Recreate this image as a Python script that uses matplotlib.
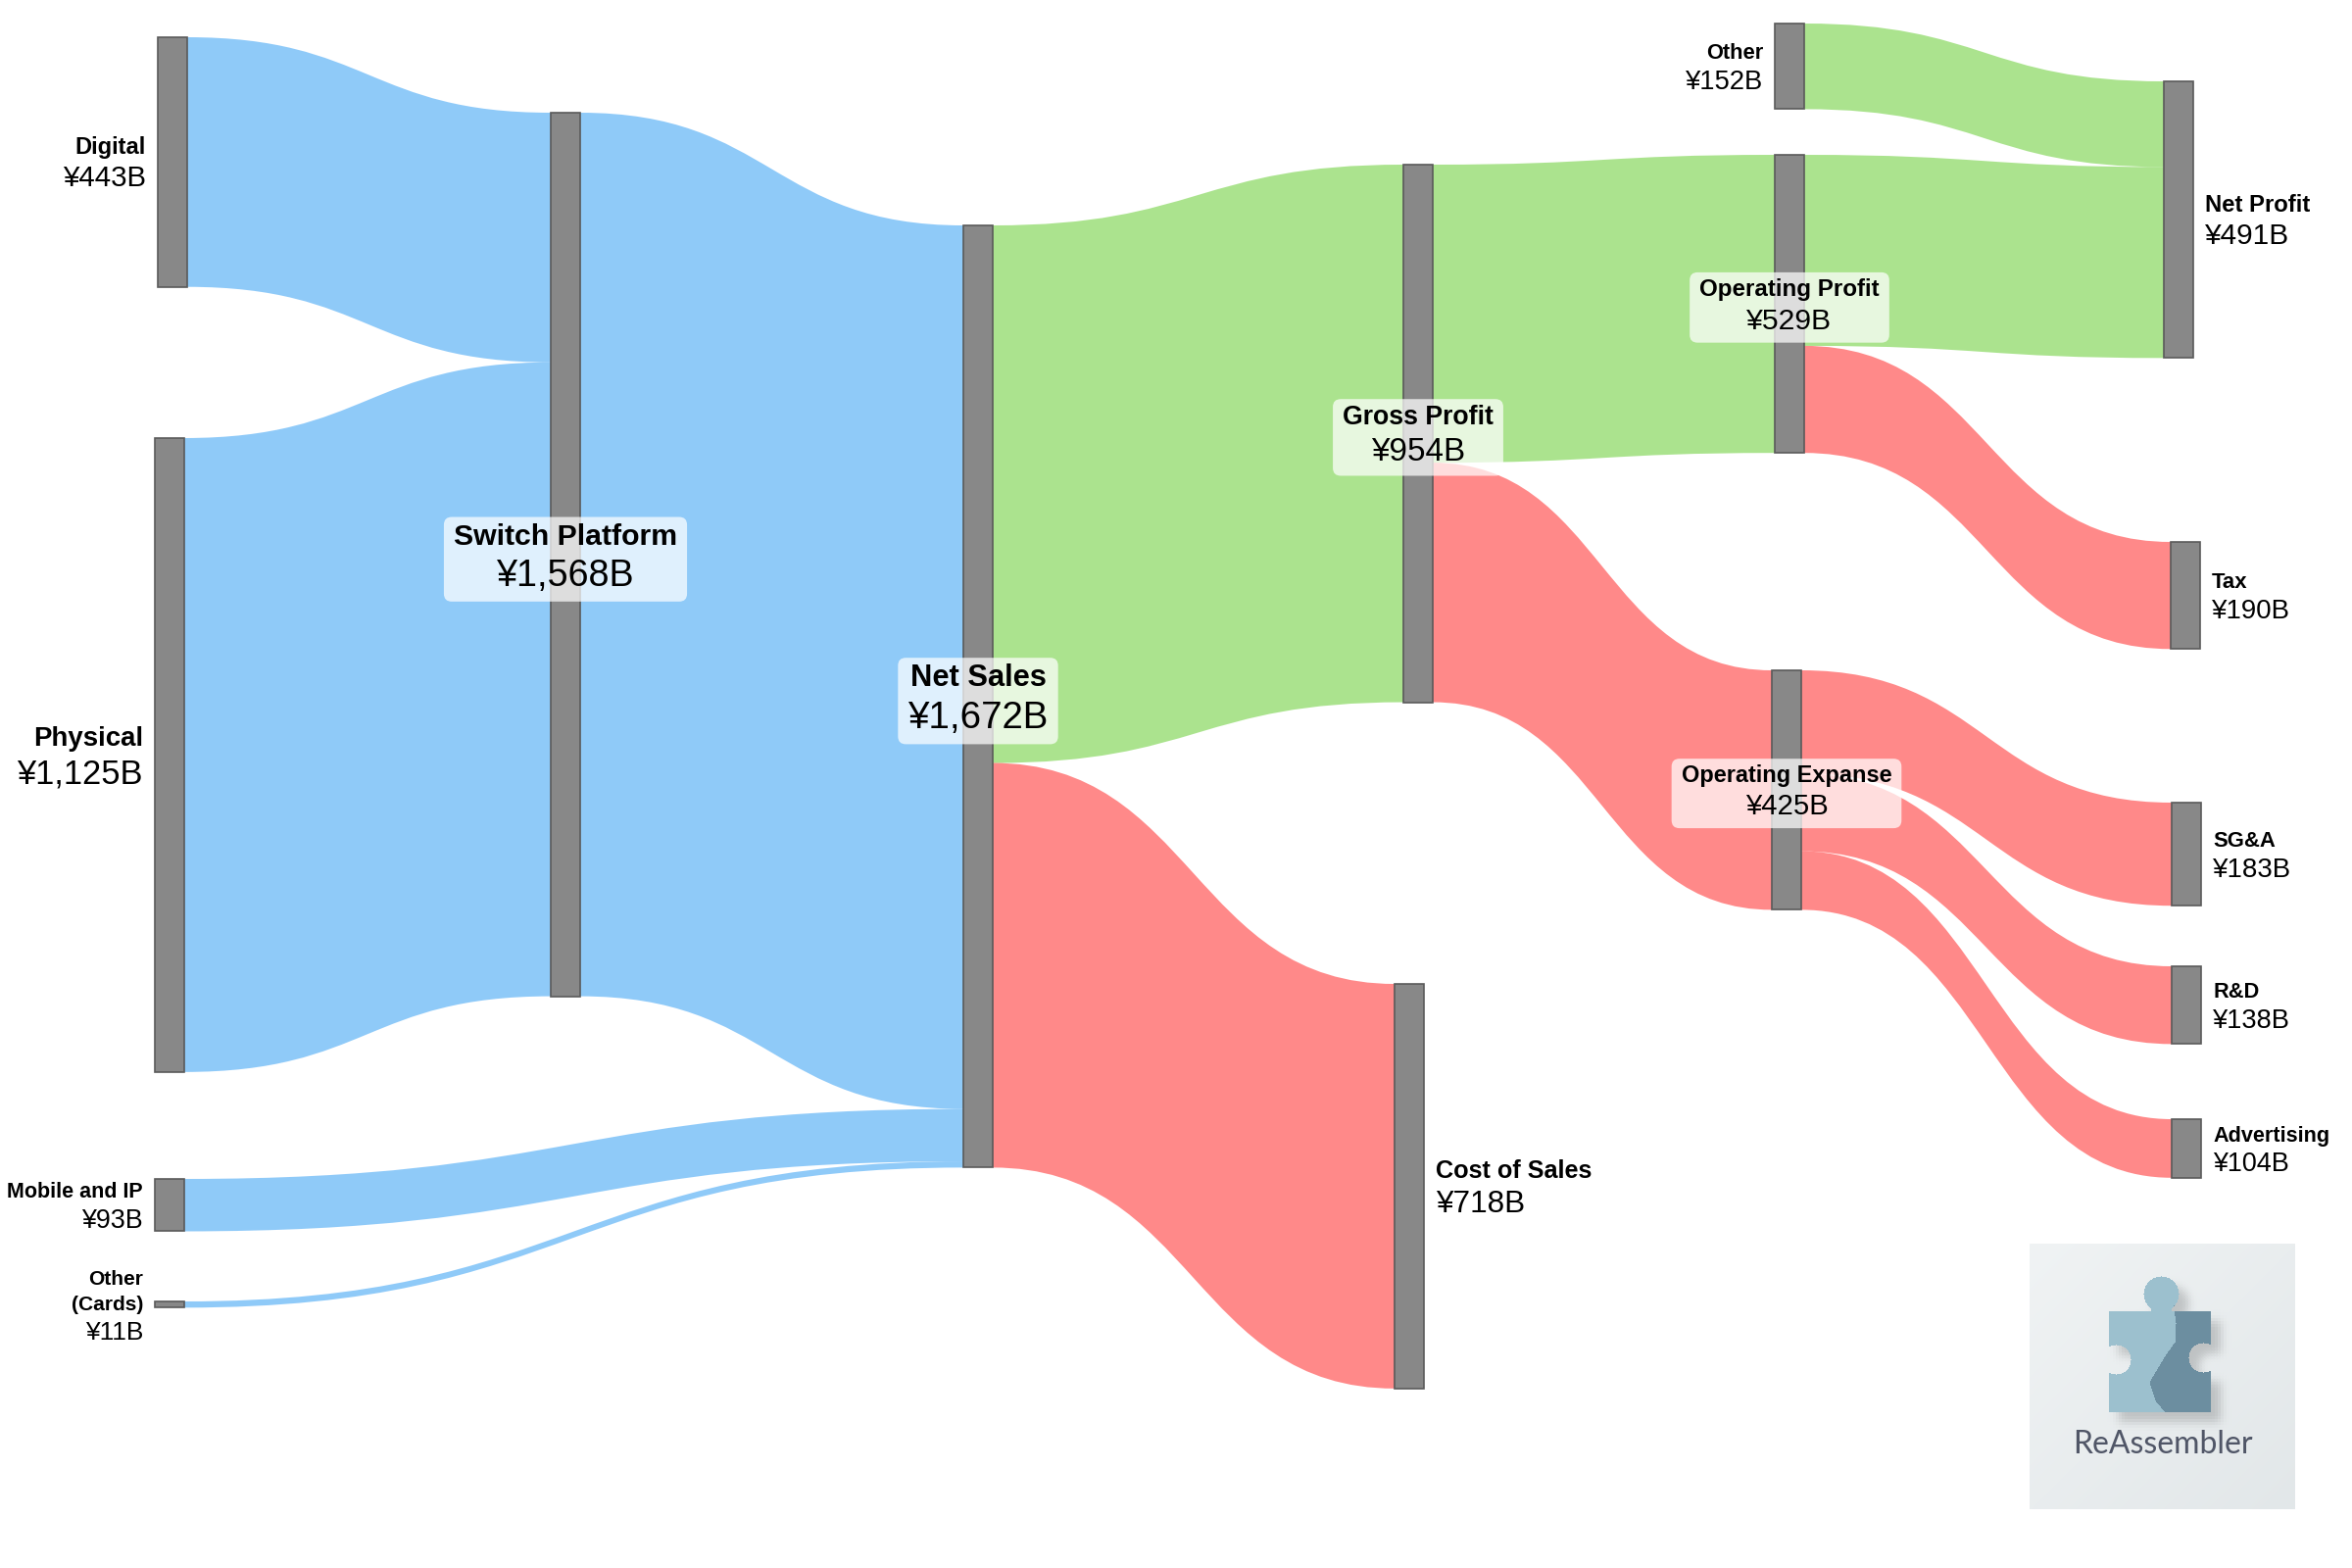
import numpy as np
import matplotlib
matplotlib.use("Agg")
import matplotlib.pyplot as plt
from matplotlib.path import Path
from matplotlib.patches import PathPatch, Rectangle, FancyBboxPatch

plt.rcParams['font.family'] = ['Liberation Sans', 'DejaVu Sans']

# nodes of the sankey
names = ["Digital", "Physical", "Mobile and IP", "Other\n(Cards)", "Switch Platform", "Net Sales",
         "Gross Profit", "Cost of Sales", "Operating Profit", "Operating Expanse", "Other",
         "Net Profit", "Tax", "SG&A", "R&D", "Advertising"]

# links (billion yen)
src = [0, 1, 4, 2, 3, 5, 5, 6, 6, 10, 8, 8, 9, 9, 9]
tgt = [4, 4, 5, 5, 5, 6, 7, 8, 9, 11, 11, 12, 13, 14, 15]
vals = [443, 1125, 1568, 93, 11, 954, 718, 529, 425, 152, 339, 190, 183, 138, 104]
kind = ["rev", "rev", "rev", "rev", "rev", "profit", "cost", "profit", "cost",
        "profit", "profit", "cost", "cost", "cost", "cost"]

# manual layout on the 2400x1600 canvas (like plotly node.x / node.y)
node_x = [161, 158, 158, 158, 562, 983, 1432, 1423, 1811, 1808, 1811, 2208, 2215, 2216, 2216, 2216]
node_y = [38, 447, 1203, 1328, 115, 230, 168, 1004, 158, 684, 24, 83, 553, 819, 986, 1142]
label_side = ["left", "left", "left", "left", "center", "center", "center", "right",
              "center", "center", "left", "right", "right", "right", "right", "right"]

px_per_b = 0.575
node_w = 30
link_col = {"rev": (33/255, 150/255, 243/255, 0.5),
            "profit": (88/255, 201/255, 31/255, 0.5),
            "cost": (255/255, 21/255, 21/255, 0.5)}

W, H = 2400, 1600
fig = plt.figure(figsize=(24, 16), dpi=100)
ax = fig.add_axes([0, 0, 1, 1])
ax.set_xlim(0, W)
ax.set_ylim(H, 0)
ax.axis('off')

n = len(names)
vin = np.zeros(n)
vout = np.zeros(n)
for s, t, v in zip(src, tgt, vals):
    vout[s] += v
    vin[t] += v
node_val = np.maximum(vin, vout)

# links
off_out = np.zeros(n)
off_in = np.zeros(n)
for s, t, v, k in zip(src, tgt, vals, kind):
    th = v * px_per_b
    x0 = node_x[s] + node_w
    x1 = node_x[t]
    y0 = node_y[s] + off_out[s]
    y1 = node_y[t] + off_in[t]
    off_out[s] += th
    off_in[t] += th
    xm = (x0 + x1) / 2
    verts = [(x0, y0), (xm, y0), (xm, y1), (x1, y1),
             (x1, y1 + th),
             (xm, y1 + th), (xm, y0 + th), (x0, y0 + th),
             (x0, y0)]
    codes = [Path.MOVETO, Path.CURVE4, Path.CURVE4, Path.CURVE4,
             Path.LINETO,
             Path.CURVE4, Path.CURVE4, Path.CURVE4,
             Path.CLOSEPOLY]
    ax.add_patch(PathPatch(Path(verts, codes), facecolor=link_col[k], edgecolor='none', zorder=1))

# nodes
for i in range(n):
    ax.add_patch(Rectangle((node_x[i], node_y[i]), node_w, node_val[i] * px_per_b,
                           facecolor='#888888', edgecolor='#5a5a5a', lw=1.2, zorder=2))

# labels
boxes = []
for i in range(n):
    v = node_val[i]
    npx = 21 + v / 170
    vpx = 1.25 * npx
    lines = names[i].split("\n")
    base = [0.0]
    for _ in lines[1:]:
        base.append(base[-1] + 1.28 * npx)
    vbase = base[-1] + 1.12 * vpx
    top = -0.72 * npx
    cy = node_y[i] + v * px_per_b / 2
    shift = cy - (top + vbase) / 2
    side = label_side[i]
    if side == "left":
        x, ha = node_x[i] - 12, 'right'
    elif side == "right":
        x, ha = node_x[i] + node_w + 12, 'left'
    else:
        x, ha = node_x[i] + node_w / 2, 'center'
    txts = []
    for ln, b in zip(lines, base):
        txts.append(ax.text(x, b + shift, ln, ha=ha, va='baseline', fontsize=npx * 0.72,
                            fontweight='bold', color='black', zorder=5))
    txts.append(ax.text(x, vbase + shift, "¥{:,}B".format(int(v)), ha=ha, va='baseline',
                        fontsize=vpx * 0.72, color='black', zorder=5))
    if side == "center":
        boxes.append(txts)

fig.canvas.draw()
r = fig.canvas.get_renderer()
inv = ax.transData.inverted()
for txts in boxes:
    ext = [t.get_window_extent(r) for t in txts]
    x0 = min(e.x0 for e in ext); x1 = max(e.x1 for e in ext)
    y0 = min(e.y0 for e in ext); y1 = max(e.y1 for e in ext)
    (dx0, dy0) = inv.transform((x0, y0))
    (dx1, dy1) = inv.transform((x1, y1))
    bx0, bx1 = min(dx0, dx1), max(dx0, dx1)
    by0, by1 = min(dy0, dy1), max(dy0, dy1)
    pad = 6
    ax.add_patch(FancyBboxPatch((bx0 - pad, by0 - pad + 4), bx1 - bx0 + 2 * pad, by1 - by0 + 2 * pad - 6,
                                boxstyle="round,pad=4,rounding_size=8",
                                facecolor=(1, 1, 1, 0.72), edgecolor='none', zorder=3))

# ReAssembler logo (drawn as a small raster)
lx0, ly0, ls = 2071, 1269, 271
yy, xx = np.mgrid[0:ls, 0:ls].astype(float)
g = 0.5 * (xx + yy) / ls
bg = np.stack([240 - 14 * g, 243 - 12 * g, 244 - 11 * g], axis=-1) / 255

body = (xx >= 81) & (xx <= 184) & (yy >= 69) & (yy <= 171)
knob = ((xx - 134) ** 2 + (yy - 51) ** 2 <= 18 ** 2) | ((xx >= 124) & (xx <= 144) & (yy >= 55) & (yy <= 72))
notch_l = ((xx - 88) ** 2 + (yy - 118) ** 2 <= 15 ** 2) | ((xx <= 94) & (yy >= 111) & (yy <= 125))
notch_r = ((xx - 177) ** 2 + (yy - 116) ** 2 <= 15 ** 2) | ((xx >= 171) & (yy >= 109) & (yy <= 123))
piece = (body | knob) & ~notch_l & ~notch_r

sh = np.zeros_like(xx)
sh[10:, 10:] = piece[:-10, :-10]
for _ in range(6):
    sh = (sh + np.roll(sh, 3, 0) + np.roll(sh, -3, 0) + np.roll(sh, 3, 1) + np.roll(sh, -3, 1)) / 5
img = bg * (1 - 0.18 * sh[..., None])

xb = np.interp(yy, [60, 81, 100, 114, 141, 160, 172], [146, 149, 148, 138, 122, 128, 138])
dark = piece & (xx > xb) & (yy > 62)
light_c = np.array([156, 192, 206]) / 255
dark_c = np.array([108, 142, 160]) / 255
img[piece] = light_c
img[dark] = dark_c
ax.imshow(img, extent=(lx0, lx0 + ls, ly0 + ls, ly0), zorder=1, interpolation='bilinear')
ax.text(lx0 + ls / 2, 1474, "ReAssembler", ha='center', va='center', fontsize=23,
        family=['Lato', 'DejaVu Sans'], color='#505667', zorder=2)
ax.set_xlim(0, W)
ax.set_ylim(H, 0)

fig.savefig("out.png", dpi=100)
